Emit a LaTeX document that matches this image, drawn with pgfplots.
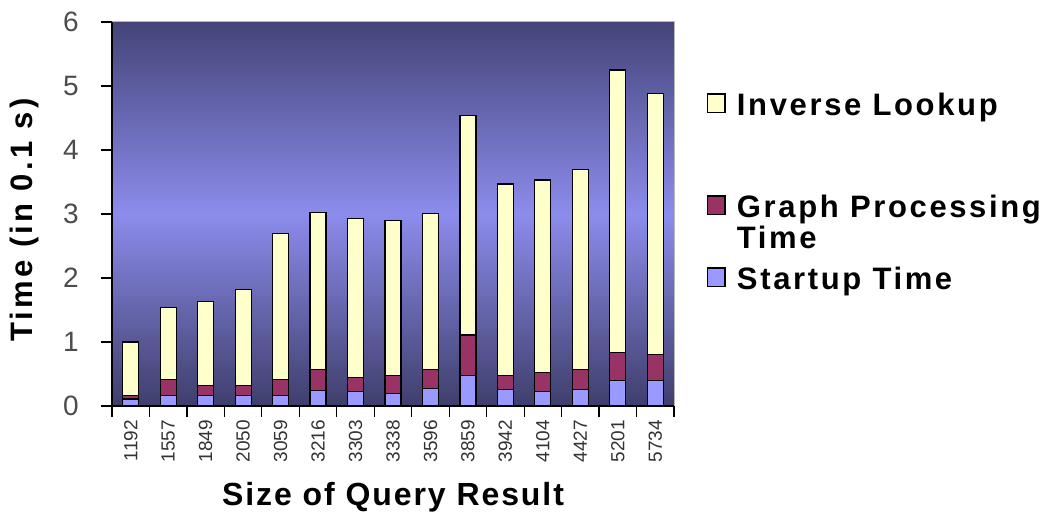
\documentclass[border=0pt]{standalone}
\usepackage{fontspec}
\setmainfont{Liberation Sans}
\newfontfamily\lsA{Liberation Sans}[LetterSpace=8.5]
\newfontfamily\lsY{Liberation Sans}[LetterSpace=11]
\newfontfamily\lsX{Liberation Sans}[LetterSpace=6]
\usepackage{pgfplots}
\pgfplotsset{compat=1.18}
\definecolor{cStart}{HTML}{9999FF}
\definecolor{cGraph}{HTML}{993366}
\definecolor{cInv}{HTML}{FFFFCC}
\definecolor{bgTop}{HTML}{44447A}
\definecolor{bgMid}{HTML}{8C8CEC}
\definecolor{bgBot}{HTML}{3E3E6C}
\begin{document}
\begin{tikzpicture}[x=1pt,y=1pt]
\useasboundingbox (0,0) rectangle (1053,514);
\begin{axis}[
  at={(112pt,108pt)}, anchor=south west,
  scale only axis, width=562pt, height=384pt,
  ybar stacked, bar width=16pt,
  xmin=-0.5, xmax=14.5, ymin=0, ymax=6,
  xtick={-0.5,0.5,...,14.5}, x tick label as interval,
  xticklabels={1192,1557,1849,2050,3059,3216,3303,3338,3596,3859,3942,4104,4427,5201,5734},
  ytick={0,1,2,3,4,5,6},
  axis x line*=bottom, axis y line*=left,
  axis line style={black, line width=1.5pt, -},
  tick align=outside, major tick length=11pt,
  tick style={black, line width=1.2pt},
  /pgf/number format/assume math mode=true,
  yticklabel style={font=\fontsize{28}{28}\selectfont, text=black!70, inner sep=0pt, anchor=east, xshift=-22pt},
  xticklabel style={font=\fontsize{19}{19}\selectfont, text=black!80, rotate=90, anchor=east, inner sep=0pt, xshift=-3pt},
  axis background/.style={shade, top color=bgTop, bottom color=bgBot, middle color=bgMid, draw=gray!55, line width=1pt},
  xlabel={\lsX\bfseries Size of Query Result},
  ylabel={\lsY\bfseries Time (in 0.1 s)},
  xlabel style={font=\fontsize{32}{32}\selectfont, at={(axis description cs:0.5,-0.258)}, anchor=base},
  ylabel style={font=\fontsize{31}{31}\selectfont, at={(axis description cs:-0.1406,0.484)}, anchor=base},
  every axis plot/.append style={draw=black, line width=1.2pt},
  legend image code/.code={\draw[#1,line width=1.5pt] (0.75pt,2.5pt) rectangle (18.25pt,21pt);},
  reverse legend,
  legend style={at={(axis description cs:1.0587,0.8203)}, anchor=north west, draw=none, fill=none,
    inner sep=0pt, outer sep=0pt, row sep=0pt, column sep=11pt,
    nodes={inner sep=0pt},
    cells={anchor=base west, inner sep=0pt},
    font=\lsA\bfseries\fontsize{31}{31}\selectfont},
]
\addplot[fill=cStart] coordinates {(0,0.11) (1,0.16) (2,0.16) (3,0.16) (4,0.16) (5,0.24) (6,0.23) (7,0.20) (8,0.27) (9,0.48) (10,0.26) (11,0.23) (12,0.26) (13,0.40) (14,0.40)};
\addlegendentry[text height=24pt, text depth=7pt, inner sep=0pt]{Startup Time}
\addlegendimage{empty legend}
\addlegendentry[text height=24pt, text depth=17pt, inner sep=0pt]{Time}
\addplot[fill=cGraph] coordinates {(0,0.06) (1,0.25) (2,0.16) (3,0.16) (4,0.25) (5,0.33) (6,0.22) (7,0.28) (8,0.30) (9,0.63) (10,0.22) (11,0.29) (12,0.31) (13,0.43) (14,0.40)};
\addlegendentry[text height=24pt, text depth=7pt, inner sep=0pt]{Graph Processing}
\addplot[fill=cInv] coordinates {(0,0.83) (1,1.13) (2,1.31) (3,1.50) (4,2.29) (5,2.45) (6,2.48) (7,2.42) (8,2.44) (9,3.43) (10,2.99) (11,3.01) (12,3.12) (13,4.42) (14,4.08)};
\addlegendentry[text height=24pt, text depth=78pt, inner sep=0pt]{Inverse Lookup}
\end{axis}
\end{tikzpicture}
\end{document}
